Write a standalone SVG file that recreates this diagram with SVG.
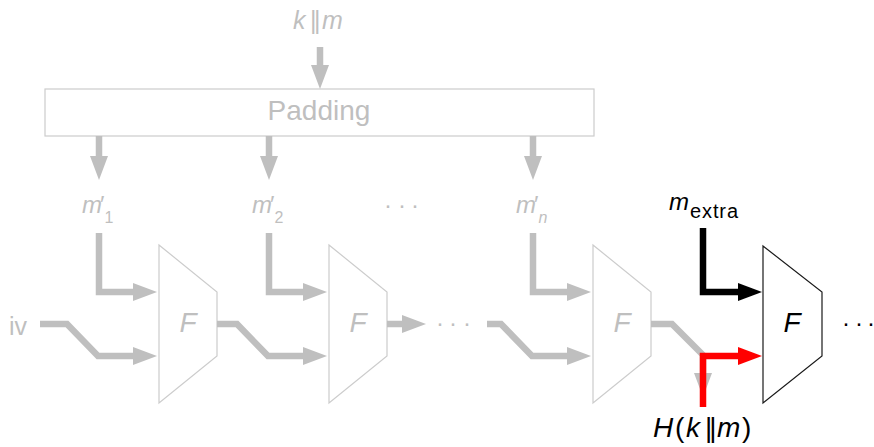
<svg xmlns="http://www.w3.org/2000/svg" width="874" height="447" viewBox="0 0 874 447">
  <style>
    text { font-family: "Liberation Sans", Arial, "DejaVu Sans", sans-serif; }
    .g { fill: #bfbfbf; }
    .k { fill: #000000; }
    .it { font-style: italic; }
    .up { font-style: normal; }
    .box { fill: #ffffff; stroke: #cccccc; stroke-width: 1.2; }
    .boxk { fill: #ffffff; stroke: #1a1a1a; stroke-width: 1.2; }
    .wg { fill: none; stroke: #bfbfbf; stroke-width: 6.5; stroke-linejoin: miter; }
    .wk { fill: none; stroke: #000000; stroke-width: 6.5; }
    .wr { fill: none; stroke: #ff0000; stroke-width: 6.5; }
  </style>
  <defs>
    <marker id="ag" markerUnits="userSpaceOnUse" markerWidth="26" markerHeight="20" refX="14" refY="9" orient="auto">
      <path d="M0,0 L24,9 L0,18 z" fill="#bfbfbf"/>
    </marker>
    <marker id="ak" markerUnits="userSpaceOnUse" markerWidth="26" markerHeight="20" refX="14" refY="9" orient="auto">
      <path d="M0,0 L24,9 L0,18 z" fill="#000000"/>
    </marker>
    <marker id="ar" markerUnits="userSpaceOnUse" markerWidth="26" markerHeight="20" refX="14" refY="9" orient="auto">
      <path d="M0,0 L24,9 L0,18 z" fill="#ff0000"/>
    </marker>
  </defs>

  <g id="input-label">
    <text class="g it" y="29" font-size="25"><tspan x="293">k</tspan><tspan class="up" x="310" letter-spacing="-2.5">||</tspan><tspan x="322">m</tspan></text>
  </g>

  <g id="padding">
    <rect class="box" x="45" y="89" width="549" height="47"/>
    <text class="g" x="319" y="120" font-size="28" text-anchor="middle">Padding</text>
  </g>

  <g id="m1">
    <text class="g" font-size="24" x="82" y="213"><tspan class="it" letter-spacing="-2">m</tspan>′<tspan dy="10" font-size="16">1</tspan></text>
  </g>
  <g id="m2">
    <text class="g" font-size="24" x="252" y="213"><tspan class="it" letter-spacing="-2">m</tspan>′<tspan dy="10" font-size="16">2</tspan></text>
  </g>
  <g id="dots-top">
    <text class="g" font-size="24" text-anchor="middle" x="388 402 415" y="213">···</text>
  </g>
  <g id="mn">
    <text class="g" font-size="24" x="516" y="213"><tspan class="it" letter-spacing="-2">m</tspan>′<tspan class="it" dy="10" font-size="16">n</tspan></text>
  </g>

  <g id="iv">
    <text class="g" x="9" y="335" font-size="25">iv</text>
  </g>

  <g id="f1">
    <polygon class="box" points="159,245 217,292 217,356 159,403"/>
    <text class="g it" x="188" y="332" font-size="28" text-anchor="middle">F</text>
  </g>
  <g id="f2">
    <polygon class="box" points="329,245 387,292 387,356 329,403"/>
    <text class="g it" x="358" y="332" font-size="28" text-anchor="middle">F</text>
  </g>
  <g id="dots-mid">
    <text class="g" font-size="24" text-anchor="middle" x="440 453 467" y="331">···</text>
  </g>
  <g id="f3">
    <polygon class="box" points="593,245 651,292 651,356 593,403"/>
    <text class="g it" x="622" y="332" font-size="28" text-anchor="middle">F</text>
  </g>
  <g id="f4">
    <polygon class="boxk" points="763,246 822,292 822,356 763,403"/>
    <text class="k it" x="792" y="332" font-size="28" text-anchor="middle">F</text>
  </g>
  <g id="dots-right">
    <text class="k" font-size="24" text-anchor="middle" x="846 859 871" y="331">···</text>
  </g>

  <g id="mextra">
    <text class="k" font-size="24"><tspan class="it" x="669" y="210">m</tspan><tspan x="690" y="218" font-size="20" textLength="48" lengthAdjust="spacing">extra</tspan></text>
  </g>

  <g id="output">
    <text class="k" y="437" font-size="28"><tspan class="it" x="653">H</tspan><tspan x="675">(</tspan><tspan class="it" x="686">k</tspan><tspan x="705" letter-spacing="-3">||</tspan><tspan class="it" x="717">m</tspan><tspan x="742">)</tspan></text>
  </g>

  <g id="connectors">
    <path class="wg" d="M320,47 V79" marker-end="url(#ag)"/>
    <path class="wg" d="M99,136 V170" marker-end="url(#ag)"/>
    <path class="wg" d="M269,136 V170" marker-end="url(#ag)"/>
    <path class="wg" d="M533,136 V170" marker-end="url(#ag)"/>
    <path class="wg" d="M99,233 V292 H147" marker-end="url(#ag)"/>
    <path class="wg" d="M269,233 V292 H317" marker-end="url(#ag)"/>
    <path class="wg" d="M533,233 V292 H581" marker-end="url(#ag)"/>
    <path class="wg" d="M40,324 H67 L98,356 H147" marker-end="url(#ag)"/>
    <path class="wg" d="M217,324 H237 L268,356 H317" marker-end="url(#ag)"/>
    <path class="wg" d="M387,324 H416" marker-end="url(#ag)"/>
    <path class="wg" d="M487,324 H501 L532,356 H581" marker-end="url(#ag)"/>
    <path class="wg" d="M651,324 H672 L703,355 V387" marker-end="url(#ag)"/>
    <path class="wk" d="M703,228 V292 H752" marker-end="url(#ak)"/>
    <path class="wr" d="M703,407 V356 H752" marker-end="url(#ar)"/>
  </g>
</svg>
